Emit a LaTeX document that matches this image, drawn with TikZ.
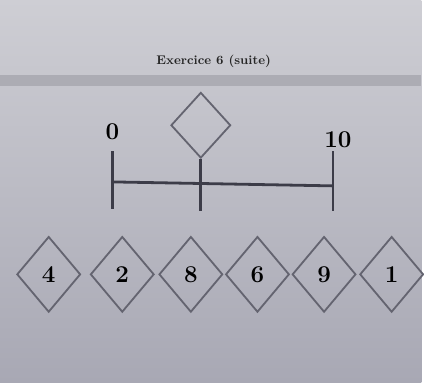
\documentclass[tikz,border=0pt]{standalone}
\usepackage{xcolor}
\definecolor{sheettop}{RGB}{206,206,212}
\definecolor{sheetbot}{RGB}{168,168,180}
\definecolor{sheetband}{RGB}{172,172,180}
\definecolor{inkdark}{RGB}{60,60,72}
\definecolor{inkgray}{RGB}{100,100,112}
\usepackage{tikz}
\usetikzlibrary{shapes.geometric}

\tikzset{
  cardbox/.style={diamond, draw=inkgray, line width=1.3pt, inner sep=0pt,
    minimum width=1.6cm, minimum height=1.9cm, font=\LARGE\bfseries, text=black},
  axisline/.style={draw=inkdark, line width=2pt}
}

\begin{document}
\begin{tikzpicture}
  % photo background
  \shade[top color=sheettop, bottom color=sheetbot] (0,0) rectangle (10.6,9.625);
  \fill[sheetband] (0,7.45) rectangle (10.6,7.75);
  \node[font=\small\bfseries, text=black!85] (title) at (5.375,8.075) {Exercice 6 (suite)};

  % number line
  \node[font=\LARGE\bfseries, text=black] (zero) at (2.825,6.3) {0};
  \node[font=\LARGE\bfseries, text=black] (ten) at (8.5,6.1) {10};
  \node[cardbox, minimum width=1.5cm, minimum height=1.65cm] (blank) at (5.05,6.475) {};
  \coordinate (ltop) at (2.825,5.825);
  \coordinate (lbot) at (2.825,4.375);
  \coordinate (rtop) at (8.375,5.825);
  \coordinate (rbot) at (8.375,4.325);
  \coordinate (mbot) at (5.05,4.325);
  \coordinate (lmid) at (2.825,5.05);
  \coordinate (rmid) at (8.375,4.95);
  \draw[axisline] (ltop) -- (lbot);
  \draw[axisline] (rtop) -- (rbot);
  \draw[axisline] (lmid) -- (rmid);
  \draw[axisline] (blank.south) -- (mbot);

  % cards
  \node[cardbox] (c4) at (1.225,2.725) {4};
  \node[cardbox] (c2) at (3.075,2.725) {2};
  \node[cardbox] (c8) at (4.8,2.725) {8};
  \node[cardbox] (c6) at (6.475,2.725) {6};
  \node[cardbox] (c9) at (8.15,2.725) {9};
  \node[cardbox] (c1) at (9.85,2.725) {1};
\end{tikzpicture}
\end{document}
